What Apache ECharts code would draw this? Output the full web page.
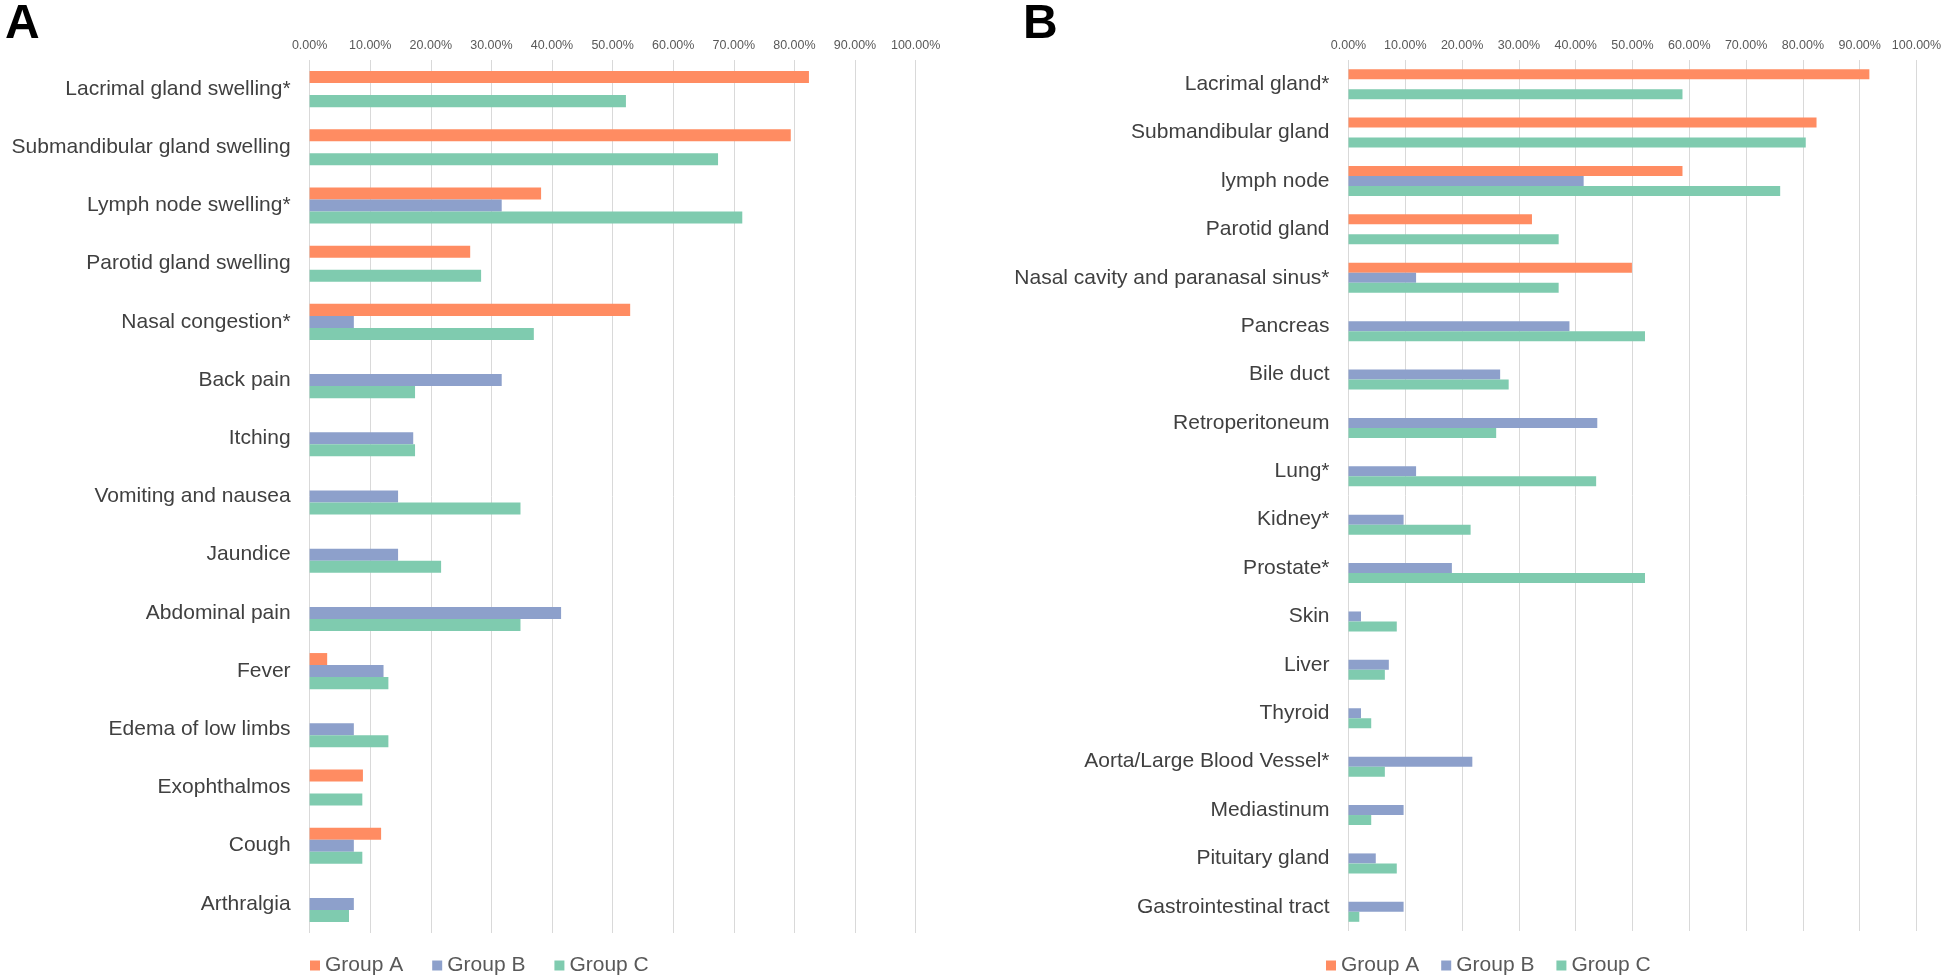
<!DOCTYPE html>
<html>
<head>
<meta charset="utf-8">
<script src="https://cdn.jsdelivr.net/npm/echarts@6/dist/echarts.min.js"></script>
<style>
html,body{margin:0;padding:0;background:#fff;}
#chart{width:1946px;height:977px;}
</style>
</head>
<body>
<div id="chart"></div>
<script>
// Panel A: symptoms
const catsA = ["Lacrimal gland swelling*","Submandibular gland swelling","Lymph node swelling*","Parotid gland swelling","Nasal congestion*","Back pain","Itching","Vomiting and nausea","Jaundice","Abdominal pain","Fever","Edema of low limbs","Exophthalmos","Cough","Arthralgia"];
const groupA_A = [82.4,79.4,38.2,26.5,52.9,null,null,null,null,null,2.9,null,8.8,11.8,null];
const groupB_A = [null,null,31.7,null,7.3,31.7,17.1,14.6,14.6,41.5,12.2,7.3,null,7.3,7.3];
const groupC_A = [52.2,67.4,71.4,28.3,37.0,17.4,17.4,34.8,21.7,34.8,13.0,13.0,8.7,8.7,6.5];

// Panel B: organs
const catsB = ["Lacrimal gland*","Submandibular gland","lymph node","Parotid gland","Nasal cavity and paranasal sinus*","Pancreas","Bile duct","Retroperitoneum","Lung*","Kidney*","Prostate*","Skin","Liver","Thyroid","Aorta/Large Blood Vessel*","Mediastinum","Pituitary gland","Gastrointestinal tract"];
const groupA_B = [91.7,82.4,58.8,32.3,49.9,null,null,null,null,null,null,null,null,null,null,null,null,null];
const groupB_B = [null,null,41.4,null,11.9,38.9,26.7,43.8,11.9,9.7,18.2,2.2,7.1,2.2,21.8,9.7,4.8,9.7];
const groupC_B = [58.8,80.5,76.0,37.0,37.0,52.2,28.2,26.0,43.6,21.5,52.2,8.5,6.4,4.0,6.4,4.0,8.5,1.9];

const tickVals = [0,10,20,30,40,50,60,70,80,90,100];
const groupNames = ["Group A","Group B","Group C"];
const colors = ["#FF8C62","#8DA0CB","#7FCBAF"];

const FONT = "'Liberation Sans', Arial, Helvetica, sans-serif";
const chart = echarts.init(document.getElementById('chart'), null, {renderer:'canvas'});

function xAx(gi){
  return {
    gridIndex: gi, type:'value', position:'top', min:0, max:100, interval:10,
    axisLine:{show:false}, axisTick:{show:false},
    splitLine:{show:true, lineStyle:{color:'#d9d9d9', width:1}},
    axisLabel:{margin:8, fontSize:12.5, color:'#595959', fontFamily:FONT,
      formatter:(v)=>v.toFixed(2)+'%'}
  };
}
function yAx(gi, cats){
  return {
    gridIndex: gi, type:'category', inverse:true, data:cats,
    axisLine:{show:false}, axisTick:{show:false}, splitLine:{show:false},
    axisLabel:{margin:19, fontSize:21, color:'#404040', fontFamily:FONT}
  };
}
function bars(gi, arrs){
  return arrs.map((d,i)=>({
    name: groupNames[i], type:'bar', xAxisIndex:gi, yAxisIndex:gi,
    data:d, barGap:'0%', barCategoryGap:'38%',
    itemStyle:{color:colors[i]}, emphasis:{disabled:true}
  }));
}

chart.setOption({
  animation:false,
  backgroundColor:'#fff',
  title:[
    {text:'A', left:0, top:-4, textStyle:{fontSize:48, fontWeight:'bold', color:'#000', fontFamily:FONT}},
    {text:'B', left:1018, top:-4, textStyle:{fontSize:48, fontWeight:'bold', color:'#000', fontFamily:FONT}}
  ],
  grid:[
    {left:309.6, width:606, top:60, height:873, containLabel:false},
    {left:1348.5, width:568, top:60, height:871, containLabel:false}
  ],
  xAxis:[xAx(0), xAx(1)],
  yAxis:[yAx(0,catsA), yAx(1,catsB)],
  legend:[
    {data:groupNames, left:305, top:950, icon:'rect', itemWidth:10, itemHeight:10, itemGap:29,
     textStyle:{fontSize:21, color:'#595959', fontFamily:FONT}, selectedMode:false},
    {data:groupNames, left:1321, top:950, icon:'rect', itemWidth:10, itemHeight:10, itemGap:22,
     textStyle:{fontSize:21, color:'#595959', fontFamily:FONT}, selectedMode:false}
  ],
  series:[...bars(0,[groupA_A,groupB_A,groupC_A]), ...bars(1,[groupA_B,groupB_B,groupC_B])]
});
</script>
</body>
</html>
